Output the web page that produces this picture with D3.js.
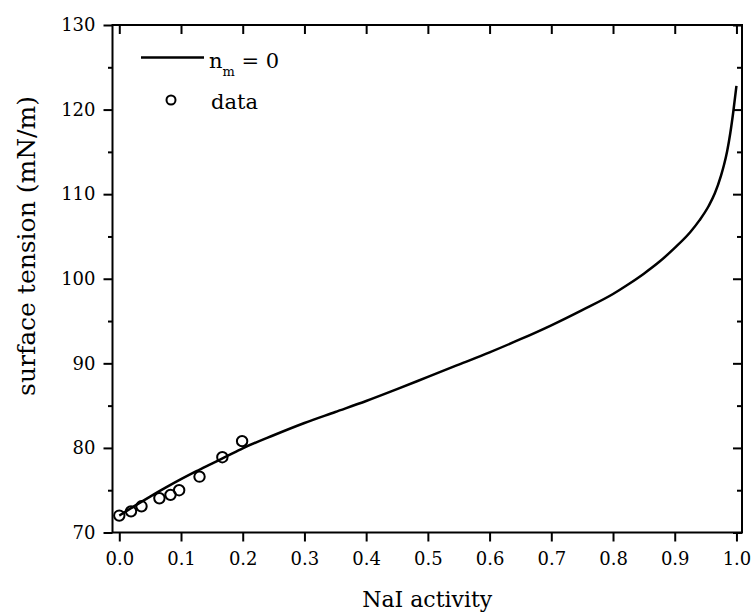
<!DOCTYPE html>
<html>
<head>
<meta charset="utf-8">
<script src="https://cdn.jsdelivr.net/npm/d3@7"></script>
<style>
  html, body { margin: 0; padding: 0; background: #fff; }
  svg { display: block; }
  text { font-family: "DejaVu Serif", "Liberation Serif", serif; fill: #000; }
</style>
</head>
<body>
<svg id="chart" width="751" height="616"></svg>
<script>
// ---- data ----
const curveX = [0, 0.025, 0.05, 0.075, 0.1, 0.125, 0.15, 0.175, 0.2, 0.25, 0.3, 0.35, 0.4, 0.45, 0.5, 0.55, 0.6, 0.65, 0.7, 0.75, 0.8, 0.825, 0.85, 0.875, 0.9, 0.925, 0.94, 0.955, 0.965, 0.975, 0.98, 0.985, 0.99, 0.995, 1.0];
const curveY = [72.0, 73.15, 74.25, 75.3, 76.3, 77.25, 78.15, 79.05, 79.95, 81.5, 82.95, 84.25, 85.55, 86.95, 88.4, 89.85, 91.3, 92.85, 94.5, 96.3, 98.2, 99.35, 100.6, 102.0, 103.65, 105.5, 106.9, 108.6, 110.1, 112.2, 113.5, 115.1, 117.2, 119.8, 122.8];
const dataX = [0.0, 0.019, 0.036, 0.065, 0.083, 0.097, 0.130, 0.167, 0.199];
const dataY = [72.0, 72.5, 73.1, 74.05, 74.45, 75.0, 76.6, 78.9, 80.8];
const xTicks = [0, 0.1, 0.2, 0.3, 0.4, 0.5, 0.6, 0.7, 0.8, 0.9, 1.0];
const yTicks = [70, 80, 90, 100, 110, 120, 130];
const yMinorTicks = [75, 85, 95, 105, 115, 125];
const xTitle = "NaI activity";
const yTitle = "surface tension (mN/m)";
const legendLine = "n";
const legendLineSub = "m";
const legendLineTail = " = 0";
const legendData = "data";

// ---- layout ----
const L = 112.5, R = 742, T = 25, B = 532.5;
const svg = d3.select("#chart");
const x = d3.scaleLinear().domain([-0.011, 1.009]).range([L, R]);
const y = d3.scaleLinear().domain([70, 130]).range([B, T]);

// bottom axis (outward ticks)
const gBottom = svg.append("g").attr("transform", `translate(0,${B})`)
  .call(d3.axisBottom(x).tickValues(xTicks).tickFormat(d3.format(".1f")).tickSize(9).tickPadding(11));
gBottom.attr("font-family", "DejaVu Serif").attr("font-size", 18);
gBottom.selectAll("text").attr("fill", "#000");
// top axis (inward ticks)
svg.append("g").attr("transform", `translate(0,${T})`)
  .call(d3.axisTop(x).tickValues(xTicks).tickFormat("").tickSize(-9));
// left axis (outward)
const gLeft = svg.append("g").attr("transform", `translate(${L},0)`)
  .call(d3.axisLeft(y).tickValues(yTicks).tickFormat(d3.format("d")).tickSize(9).tickPadding(8));
gLeft.attr("font-family", "DejaVu Serif").attr("font-size", 18);
gLeft.selectAll("text").attr("fill", "#000");
svg.append("g").attr("transform", `translate(${L},0)`)
  .call(d3.axisLeft(y).tickValues(yMinorTicks).tickFormat("").tickSize(4.5));
// right axis (inward)
svg.append("g").attr("transform", `translate(${R},0)`)
  .call(d3.axisRight(y).tickValues(yTicks).tickFormat("").tickSize(-9));
svg.append("g").attr("transform", `translate(${R},0)`)
  .call(d3.axisRight(y).tickValues(yMinorTicks).tickFormat("").tickSize(-5));

svg.selectAll(".domain").remove();
svg.selectAll(".tick line").attr("stroke", "#000").attr("stroke-width", 2);

// frame
svg.append("rect").attr("x", L).attr("y", T).attr("width", R - L).attr("height", B - T)
  .attr("fill", "none").attr("stroke", "#000").attr("stroke-width", 2);

// curve
const pts = curveX.map((d, i) => [d, curveY[i]]);
svg.append("path").datum(pts)
  .attr("fill", "none").attr("stroke", "#000").attr("stroke-width", 2.5)
  .attr("d", d3.line().x(d => x(d[0])).y(d => y(d[1])).curve(d3.curveMonotoneX));

// data circles
svg.append("g").selectAll("circle").data(dataX.map((d, i) => [d, dataY[i]])).join("circle")
  .attr("cx", d => x(d[0])).attr("cy", d => y(d[1])).attr("r", 5.2)
  .attr("fill", "none").attr("stroke", "#000").attr("stroke-width", 2);

// titles
svg.append("text").attr("x", (L + R) / 2).attr("y", 607).attr("text-anchor", "middle")
  .attr("font-size", 22).text(xTitle);
svg.append("text").attr("transform", `translate(35,246) rotate(-90)`).attr("text-anchor", "middle")
  .attr("font-size", 25).text(yTitle);

// legend
svg.append("line").attr("x1", 141).attr("x2", 204).attr("y1", 57.5).attr("y2", 57.5)
  .attr("stroke", "#000").attr("stroke-width", 2.5);
const lt = svg.append("text").attr("x", 209).attr("y", 68).attr("font-size", 21);
lt.append("tspan").attr("fill", "#000").text(legendLine);
lt.append("tspan").attr("fill", "#000").attr("font-size", 13).attr("dy", 8).text(legendLineSub);
lt.append("tspan").attr("fill", "#000").attr("dy", -8).text(legendLineTail);
svg.append("circle").attr("cx", 171).attr("cy", 100).attr("r", 4.5)
  .attr("fill", "none").attr("stroke", "#000").attr("stroke-width", 2);
svg.append("text").attr("x", 211).attr("y", 109).attr("font-size", 21).text(legendData);
</script>
</body>
</html>
